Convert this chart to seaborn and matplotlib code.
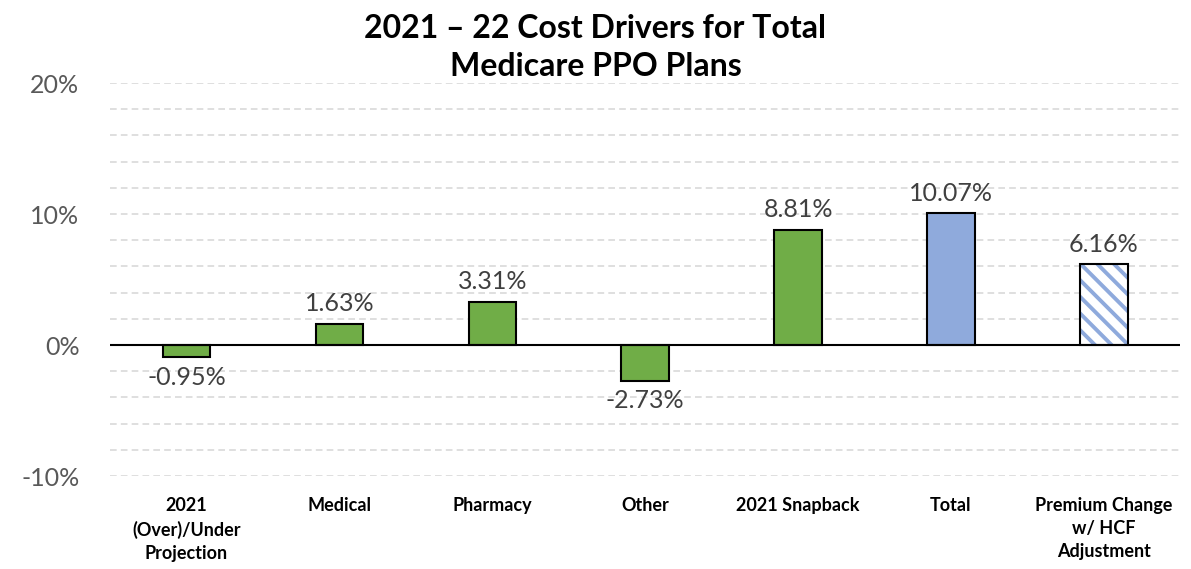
import matplotlib
matplotlib.use('Agg')
import matplotlib.pyplot as plt
import matplotlib.patches as mpatches
import seaborn as sns
import pandas as pd

categories = ['2021\n(Over)/Under\nProjection', 'Medical', 'Pharmacy', 'Other',
              '2021 Snapback', 'Total', 'Premium Change\nw/ HCF\nAdjustment']
values = [-0.95, 1.63, 3.31, -2.73, 8.81, 10.07, 6.16]
bar_colors = ['#70AD47', '#70AD47', '#70AD47', '#70AD47', '#70AD47', '#8FAADC', '#8FAADC']
y_ticks = [-10, 0, 10, 20]
y_ticklabels = ['-10%', '0%', '10%', '20%']

df = pd.DataFrame({'category': categories, 'value': values})

sns.set_theme(style='white')
plt.rcParams['font.family'] = ['Lato', 'DejaVu Sans']
plt.rcParams['hatch.linewidth'] = 2.8

fig = plt.figure(figsize=(11.91, 5.69), dpi=100)
ax = fig.add_axes([0.0924, 0.1634, 0.8986, 0.6906])

sns.barplot(data=df, x='category', y='value', hue='category', palette=bar_colors,
            saturation=1, legend=False, width=0.31, edgecolor='black', linewidth=1.5,
            ax=ax, zorder=3)

# last bar: hatched blue stripes on white, black outline on top
last = ax.patches[-1]
last.set_facecolor('white')
last.set_edgecolor('#8FAADC')
last.set_hatch('\\\\')
last.set_linewidth(0)
outline = mpatches.Rectangle(last.get_xy(), last.get_width(), last.get_height(),
                             fill=False, edgecolor='black', linewidth=1.5, zorder=4)
ax.add_patch(outline)

# gridlines every 2%
for g in range(-10, 21, 2):
    if g != 0:
        ax.axhline(g, color='#D9D9D9', linestyle=(0, (4, 2.5)), linewidth=1.2, zorder=0)
ax.axhline(0, color='black', linewidth=1.5, zorder=5)

ax.set_ylim(-10, 20)
ax.set_xlim(-0.5, len(categories) - 0.5)
ax.set_yticks(y_ticks)
ax.set_yticklabels(y_ticklabels, fontsize=18, color='#595959')
ax.tick_params(axis='y', length=0, pad=22)
ax.tick_params(axis='x', length=0, pad=15)
for lbl in ax.get_xticklabels():
    lbl.set_fontsize(13)
    lbl.set_fontweight('bold')
    lbl.set_color('black')
    lbl.set_linespacing(1.45)
ax.set_xlabel('')
ax.set_ylabel('')
for s in ax.spines.values():
    s.set_visible(False)

for i, v in enumerate(values):
    if v >= 0:
        ax.annotate(f'{v:.2f}%', (i, v), xytext=(0, 6), textcoords='offset points',
                    ha='center', va='bottom', fontsize=18, color='#404040')
    else:
        ax.annotate(f'{v:.2f}%', (i, v), xytext=(0, -6), textcoords='offset points',
                    ha='center', va='top', fontsize=18, color='#404040')

fig.text(0.5, 0.975, '2021 \u2013 22 Cost Drivers for Total\nMedicare PPO Plans',
         ha='center', va='top', fontsize=23, fontweight='bold', color='black',
         linespacing=1.35)

fig.savefig('out.png', dpi=100)
